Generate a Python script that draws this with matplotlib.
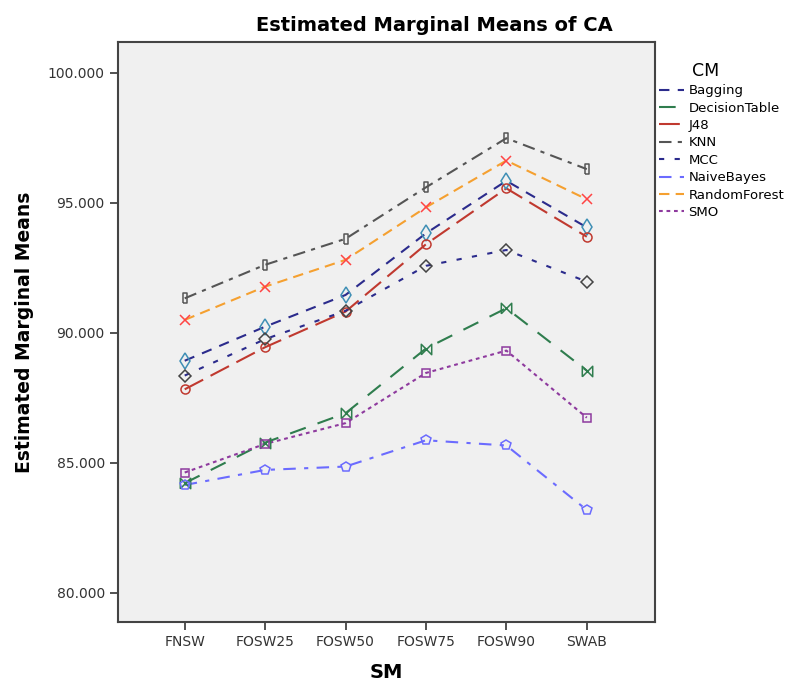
import matplotlib
matplotlib.use("Agg")
import matplotlib.pyplot as plt
from matplotlib.lines import Line2D

# data
methods = ["FNSW", "FOSW25", "FOSW50", "FOSW75", "FOSW90", "SWAB"]
bagging = [88.93, 90.24, 91.46, 93.83, 95.85, 94.06]
decision_table = [84.22, 85.78, 86.91, 89.40, 90.95, 88.55]
j48 = [87.83, 89.45, 90.82, 93.41, 95.56, 93.70]
knn = [91.33, 92.62, 93.62, 95.60, 97.49, 96.30]
mcc = [88.36, 89.76, 90.85, 92.58, 93.19, 91.97]
naive_bayes = [84.15, 84.73, 84.86, 85.87, 85.67, 83.19]
random_forest = [90.50, 91.78, 92.81, 94.83, 96.63, 95.14]
smo = [84.63, 85.73, 86.53, 88.46, 89.32, 86.74]

names = ["Bagging", "DecisionTable", "J48", "KNN", "MCC", "NaiveBayes", "RandomForest", "SMO"]
series = [bagging, decision_table, j48, knn, mcc, naive_bayes, random_forest, smo]

bowtie = [(-1, -1), (1, 1), (1, -1), (-1, 1), (-1, -1)]
tallrect = [(-0.45, -1), (0.45, -1), (0.45, 1), (-0.45, 1), (-0.45, -1)]

# line colour, dashes, marker, marker colour, marker size
styles = [
    ("#2b2b8c", (5, 4), "d", "#3f8fb5", 8.5),
    ("#2f7d4e", (8, 6), bowtie, "#2f7d4e", 7.5),
    ("#c0392f", (10, 4), "o", "#c0392f", 6.5),
    ("#555555", (6, 3, 2, 3), tallrect, "#555555", 7.5),
    ("#2b2b8c", (2.5, 5), "D", "#444444", 6),
    ("#6b6bff", (6, 4, 2, 4), "p", "#6b6bff", 7.5),
    ("#f5a030", (5, 3), "x", "#ff4444", 7.5),
    ("#8e3a9e", (1.8, 1.8), "s", "#8e3a9e", 6),
]

fig = plt.figure(figsize=(7.97, 6.83), dpi=100)
ax = fig.add_axes([0.148, 0.0893, 0.674, 0.8492])
ax.set_facecolor("#f0f0f0")

x = list(range(len(methods)))
handles = []
for name, vals, (col, dash, mk, mcol, ms) in zip(names, series, styles):
    ax.plot(x, vals, color=col, lw=1.5, dashes=dash, zorder=2)
    ax.plot(x, vals, ls="none", marker=mk, ms=ms, mfc="none", mec=mcol, mew=1.1, zorder=3)
    handles.append(Line2D([0], [0], color=col, lw=1.5, dashes=dash))

ax.set_xlim(-0.83, 5.85)
ax.set_ylim(78.88, 101.19)
ax.set_xticks(x)
ax.set_xticklabels(methods)
ax.set_yticks([80, 85, 90, 95, 100])
ax.set_yticklabels(["%.3f" % v for v in [80, 85, 90, 95, 100]])
ax.tick_params(axis="both", direction="out", length=6, width=1.2, color="#333333",
               labelsize=10, labelcolor="#333333")
for sp in ax.spines.values():
    sp.set_color("#444444")
    sp.set_linewidth(1.5)

ax.set_xlabel("SM", fontsize=14, fontweight="bold", labelpad=10)
ax.set_ylabel("Estimated Marginal Means", fontsize=13.5, fontweight="bold", labelpad=10)
fig.text(0.545, 0.962, "Estimated Marginal Means of CA", ha="center", va="center",
         fontsize=14, fontweight="bold")

leg = ax.legend(handles, names, loc="upper left", bbox_to_anchor=(1.003, 0.97),
                frameon=False, fontsize=9.5, handlelength=1.9, handletextpad=0.3,
                labelspacing=0.33, borderaxespad=0, borderpad=0.2,
                title="CM", title_fontsize=12.5)
leg._legend_box.align = "left"
leg.get_title().set_position((33, 0))

fig.savefig("out.png", dpi=100)
